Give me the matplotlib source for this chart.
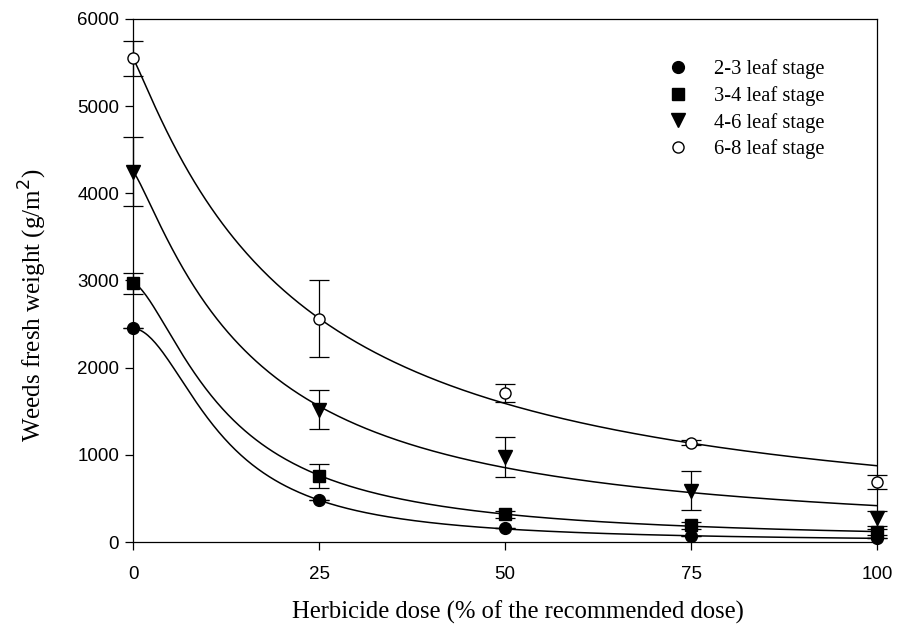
import numpy as np
import matplotlib
matplotlib.use("Agg")
import matplotlib.pyplot as plt
from matplotlib.lines import Line2D

# Herbicide dose (% of recommended) and weed fresh weight (g/m2) by growth stage
doses = [0, 25, 50, 75, 100]
stages = ["2-3 leaf stage", "3-4 leaf stage", "4-6 leaf stage", "6-8 leaf stage"]

w_23 = [2450, 480, 160, 70, 50]
w_34 = [2970, 760, 320, 195, 115]
w_46 = [4250, 1520, 975, 590, 270]
w_68 = [5550, 2560, 1710, 1140, 690]

se_23 = [0, 0, 0, 0, 0]
se_34 = [120, 135, 40, 40, 30]
se_46 = [400, 220, 230, 220, 90]
se_68 = [200, 440, 100, 30, 80]

# Log-logistic dose-response fits: upper limit d, ED50 e, slope b
fit_d = [2450, 2970, 4250, 5550]
fit_e = [11.9, 12.5, 15.9, 21.8]
fit_b = [1.90, 1.525, 1.206, 1.10]

weights = [w_23, w_34, w_46, w_68]
errors = [se_23, se_34, se_46, se_68]
styles = [
    dict(marker="o", mfc="black", ms=8.5),
    dict(marker="s", mfc="black", ms=8.0),
    dict(marker="v", mfc="black", ms=9.5),
    dict(marker="o", mfc="white", ms=8.0),
]

serif = ["Liberation Serif", "DejaVu Serif"]
sans = ["Liberation Sans", "DejaVu Sans"]

fig = plt.figure(figsize=(9.06, 6.31), dpi=100)
ax = fig.add_axes([0.1468, 0.141, 0.8212, 0.829])

xs = np.linspace(0, 100, 400)
for d, e, b in zip(fit_d, fit_e, fit_b):
    ax.plot(xs, d / (1 + (xs / e) ** b), color="black", lw=1.1, zorder=2)

for y, err, st in zip(weights, errors, styles):
    ax.errorbar(doses, y, yerr=err, fmt="none", ecolor="black", elinewidth=0.9,
                capsize=7, capthick=0.9, clip_on=False, zorder=3)
    ax.plot(doses, y, linestyle="none", color="black", mec="black", mew=1.0,
            clip_on=False, zorder=4, **st)

ax.set_xlim(0, 100)
ax.set_ylim(0, 6000)
ax.set_xticks(doses)
ax.set_yticks(np.arange(0, 6001, 1000))
ax.tick_params(direction="out", length=6, width=0.9,
               top=False, right=False, labelsize=13.5)
ax.tick_params(axis="x", pad=11)
ax.tick_params(axis="y", pad=4)
for lab in ax.get_xticklabels() + ax.get_yticklabels():
    lab.set_family(sans)
for sp in ax.spines.values():
    sp.set_linewidth(0.9)

ax.set_xlabel("Herbicide dose (% of the recommended dose)", family=serif,
              fontsize=17.7, labelpad=12)
ax.xaxis.set_label_coords(0.517, -0.112)
ax.set_ylabel("Weeds fresh weight (g/m$^2$)", family=serif, fontsize=18)
ax.yaxis.set_label_coords(-0.1125, 0.453)

handles = [Line2D([], [], linestyle="none", color="black", mec="black",
                  mew=1.0, **st) for st in styles]
ax.legend(handles, stages, loc="upper left", bbox_to_anchor=(0.687, 0.958),
          frameon=False, prop=dict(family=serif, size=14.8),
          handletextpad=1.0, labelspacing=0.33, handlelength=1.5)

fig.savefig("out.png", dpi=100)
